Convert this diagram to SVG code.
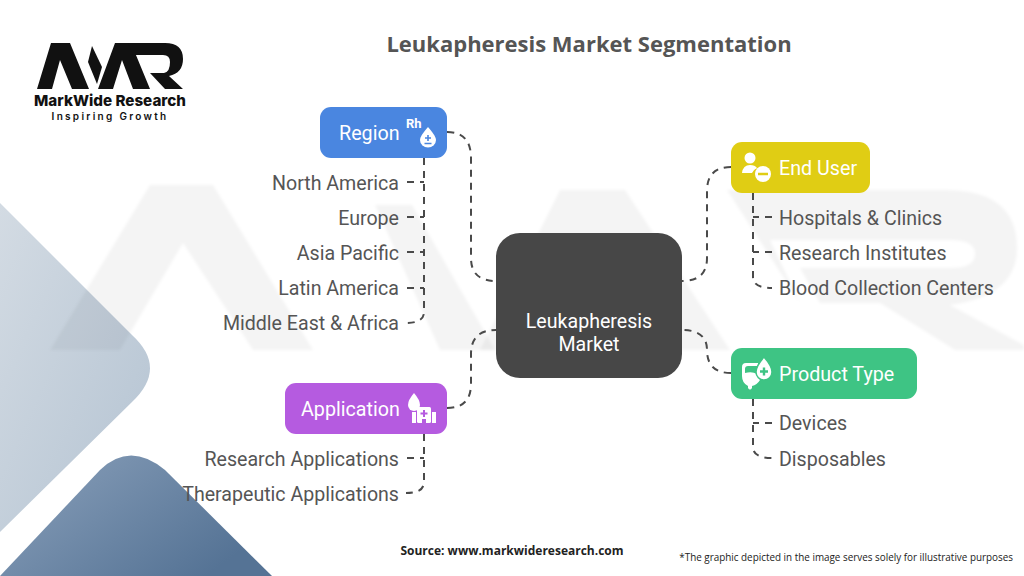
<svg xmlns="http://www.w3.org/2000/svg" width="1024" height="576" viewBox="0 0 1024 576">
<defs>
<linearGradient id="g1" x1="0" y1="0" x2="1" y2="1"><stop offset="0" stop-color="#d3dbe3"/><stop offset="1" stop-color="#b4c3d2"/></linearGradient>
<linearGradient id="g2" x1="0" y1="0" x2="1" y2="0.6"><stop offset="0" stop-color="#8ba1bb"/><stop offset="1" stop-color="#557395"/></linearGradient>
<filter id="soft" x="-5%" y="-5%" width="110%" height="110%"><feGaussianBlur stdDeviation="1.5"/></filter>
</defs>
<style>
text{font-family:Roboto,"Liberation Sans",sans-serif}
.leaf{font-size:19.6px;fill:#555555}
.end{text-anchor:end}
.head{font-size:19.7px;fill:#ffffff}
.c{fill:none;stroke:#4a4a4a;stroke-width:2;stroke-dasharray:7 6}
.i{fill:#ffffff}
.logo{font-family:Inter,"Open Sans","Liberation Sans",sans-serif;fill:#111111;text-anchor:middle}
</style>
<rect width="1024" height="576" fill="#ffffff"/>
<g id="decor">
<path d="M0 203L132 335Q168 368 132 402L0 532Z" fill="url(#g1)"/>
<path d="M0 576L100 470Q130 441 165 470L272 576Z" fill="url(#g2)"/>
</g>
<g id="watermark" fill="#000000" fill-opacity="0.045" filter="url(#soft)">
<polygon points="50,350 150,185 213,185 313,350 253,350 183,243 120,350"/>
<polygon points="375,205 412,205 495,350 440,350"/>
<polygon points="480,350 560,190 625,190 730,350 660,350 590,245 545,350"/>
<path fill-rule="evenodd" d="M727 190H945Q1017 190 1017 248Q1017 296 950 305L1024 345V350H955L880 303H800L770 240H950Q975 240 975 254Q975 268 950 268H800L820 303H880L800 303Z"/>
</g>
<g id="logo">
<polygon points="37,89 51,43 70,43 89,89 72,89 60,60 52,89" fill="#111111"/>
<polygon points="92,46 102,67 97,84 88,62" fill="#111111"/>
<polygon points="98,89 115,43 131,43 150,89 133,89 122,60 113,89" fill="#111111"/>
<path d="M128 43H165Q183 43 183 59Q183 73 169 76L183 89H165L150 73H164Q170 72 170 62Q170 55 163 55H133Z" fill="#111111"/>
<text class="logo" x="110" y="105.500" style="font-weight:800;font-size:15.200px">MarkWide Research</text>
<text class="logo" x="110" y="120" style="font-weight:600;font-size:10px;letter-spacing:2.300px">Inspiring Growth</text>
</g>
<text id="title" x="589" y="52" text-anchor="middle" style="font-family:'Open Sans','Liberation Sans',sans-serif;font-weight:700;font-size:22px;fill:#555555">Leukapheresis Market Segmentation</text>
<g id="connectors">
<path class="c" d="M447 132Q471 132 471 158V258Q471 281 496 281"/>
<path class="c" d="M447 408Q471 408 471 384V354Q471 330 496 330"/>
<path class="c" d="M731 167Q707 167 707 191V258Q707 281 682 281"/>
<path class="c" d="M731 373Q707 373 707 350Q707 330 682 330"/>
<path class="c" d="M424 158V312Q424 323 406 323"/>
<path class="c" d="M407 182H424M407 217H424M407 252H424M407 288H424"/>
<path class="c" d="M424 434V482Q424 493 406 493"/>
<path class="c" d="M407 458H424"/>
<path class="c" d="M753 193V277Q753 288 772 288"/>
<path class="c" d="M772 217H753M772 252H753"/>
<path class="c" d="M753 399V447Q753 458 772 458"/>
<path class="c" d="M772 423H753"/>
</g>
<g id="center">
<rect x="496" y="233" width="186" height="145" rx="24" fill="#474747"/>
<text x="589" y="328" text-anchor="middle" style="font-size:19.6px;fill:#fff">Leukapheresis</text>
<text x="589" y="351" text-anchor="middle" style="font-size:19.6px;fill:#fff">Market</text>
</g>
<g id="region">
<rect x="320" y="107" width="127" height="51" rx="11" fill="#4a86e0"/>
<text class="head" x="339" y="139.500">Region</text>
<text x="406" y="128" style="font-size:13px;font-weight:700;fill:#fff">Rh</text>
<path class="i" d="M428 127Q436 136 436 140A8 7.500 0 0 1 420 140Q420 136 428 127Z"/>
<path d="M425 138H431M428 135V141M424.500 143.500H431.500" stroke="#4a86e0" stroke-width="1.600" fill="none"/>
</g>
<g id="end-user">
<rect x="731" y="142" width="139" height="51" rx="11" fill="#e0cd14"/>
<text class="head" x="779" y="175">End User</text>
<circle class="i" cx="750" cy="158" r="5.500"/>
<path class="i" d="M742 173Q743 165 750 165Q755 165 757 168Q753 170 752 173Z"/>
<circle class="i" cx="763" cy="174" r="8"/>
<path d="M758 174H768" stroke="#e0cd14" stroke-width="2.500"/>
</g>
<g id="product-type">
<rect x="731" y="348" width="186" height="51" rx="11" fill="#3ec484"/>
<text class="head" x="779" y="381">Product Type</text>
<path class="i" d="M742 367Q742 363 746 363H758V366H748Q745 366 745 369V373Q752 371 757 374L760 380Q757 385 752 386V388Q750 391 748 388V386Q742 383 742 376Z"/>
<path class="i" stroke="#3ec484" stroke-width="1.500" d="M764 357Q772 366 772 372A8 8 0 0 1 756 372Q756 366 764 357Z"/>
<path d="M760 371.500H768M764 367.500V375.500" stroke="#3ec484" stroke-width="2.400"/>
</g>
<g id="application">
<rect x="285" y="383" width="162" height="51" rx="11" fill="#b55be0"/>
<text class="head" x="301" y="415.500">Application</text>
<path class="i" d="M414 393Q420 400 420 405A6 6 0 0 1 408 405Q408 400 414 393Z"/>
<rect class="i" x="417" y="407" width="14" height="16" rx="1.500"/>
<rect class="i" x="412" y="412" width="4" height="11"/>
<rect class="i" x="432" y="412" width="4" height="11"/>
<path d="M424 410V417M420.500 413.500H427.500" stroke="#b55be0" stroke-width="2"/>
<rect x="422" y="419" width="4" height="4" fill="#b55be0"/>
</g>
<g id="leaves">
<text class="leaf end" x="399" y="189.500">North America</text>
<text class="leaf end" x="399" y="224.500">Europe</text>
<text class="leaf end" x="399" y="260">Asia Pacific</text>
<text class="leaf end" x="399" y="295">Latin America</text>
<text class="leaf end" x="399" y="330">Middle East &amp; Africa</text>
<text class="leaf end" x="399" y="465.500">Research Applications</text>
<text class="leaf end" x="399" y="500.500">Therapeutic Applications</text>
<text class="leaf" x="779" y="224.500">Hospitals &amp; Clinics</text>
<text class="leaf" x="779" y="260">Research Institutes</text>
<text class="leaf" x="779" y="295">Blood Collection Centers</text>
<text class="leaf" x="779" y="430">Devices</text>
<text class="leaf" x="779" y="465.500">Disposables</text>
</g>
<text id="source" x="512" y="555" text-anchor="middle" style="font-family:'Open Sans','Liberation Sans',sans-serif;font-weight:700;font-size:12px;fill:#222">Source: www.markwideresearch.com</text>
<text id="note" x="1013" y="561" text-anchor="end" style="font-family:'Open Sans','Liberation Sans',sans-serif;font-size:9.900px;fill:#222">*The graphic depicted in the image serves solely for illustrative purposes</text>
</svg>
